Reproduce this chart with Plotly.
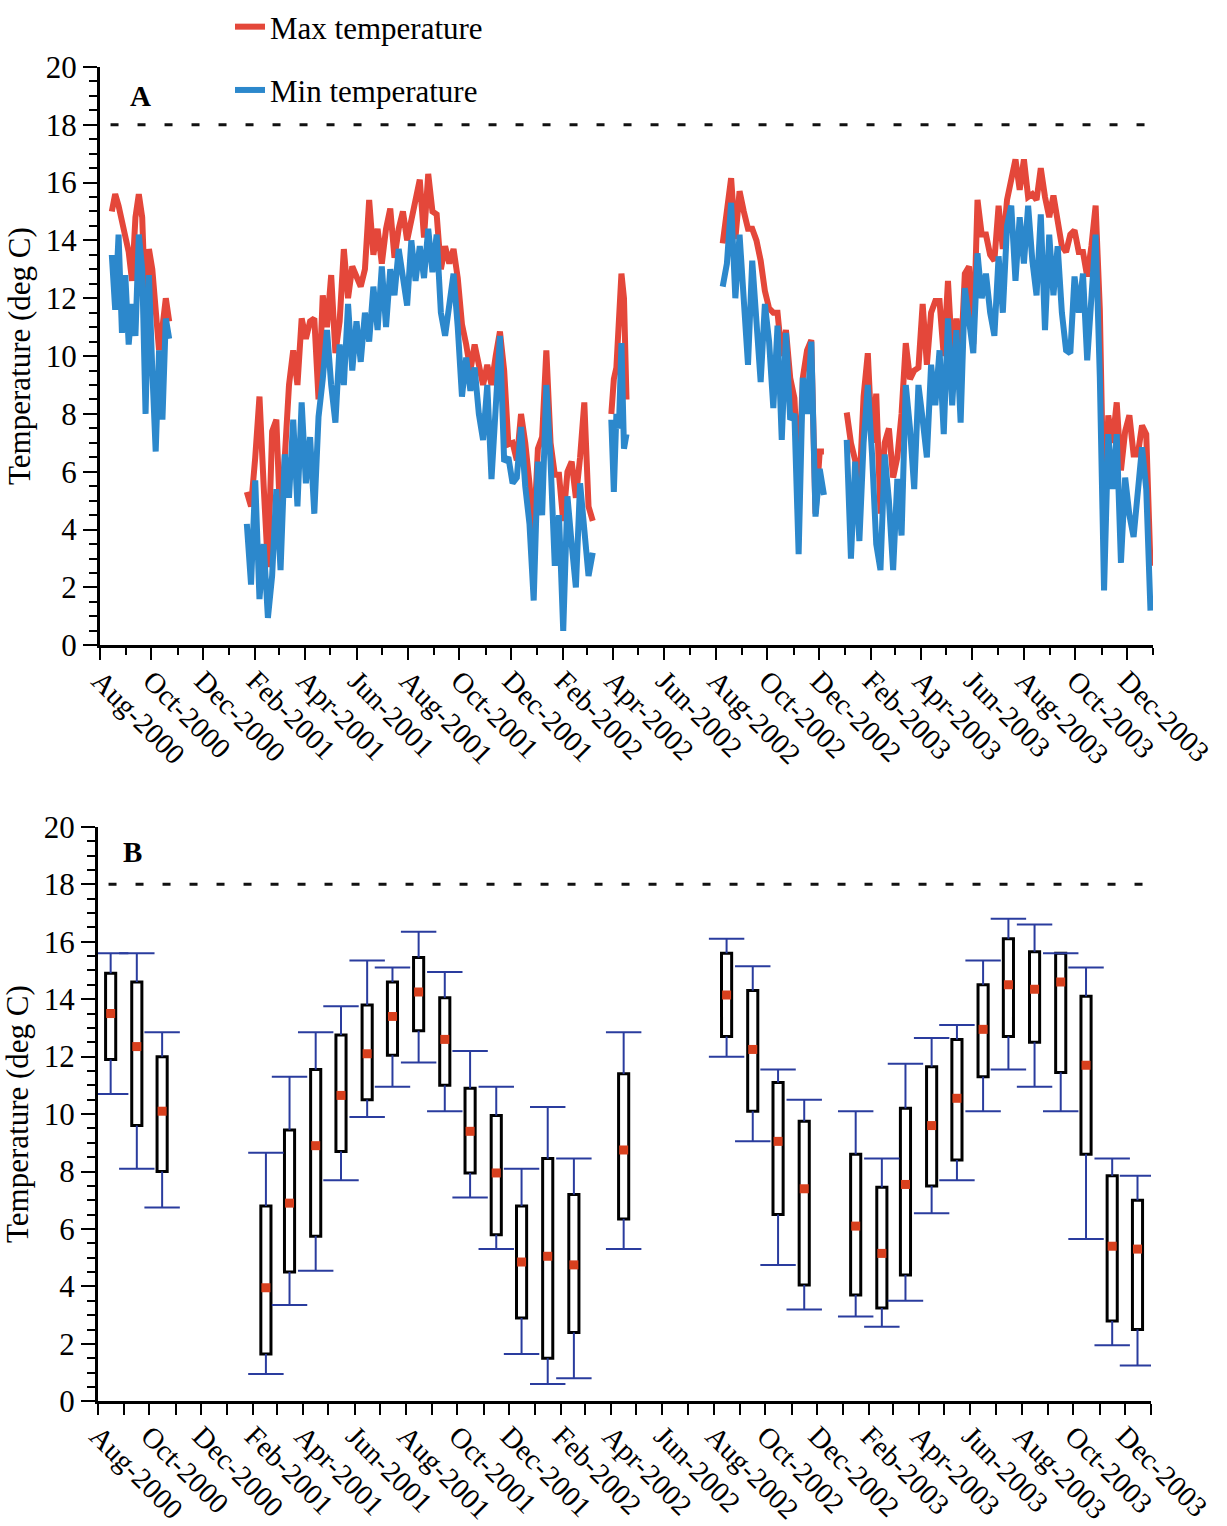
import pandas as pd
import plotly.graph_objects as go

W, H = 1227, 1526
FONT = "Liberation Serif"
RED = "#E4473A"
BLUE = "#2C88CC"
WHISKER = "#2A3C9E"
MEDIAN = "#D8401E"

THRESHOLD = 18
X_START = "2000-08-01"
X_END = "2004-01-01"

# ---------------- Panel A: daily max / min temperature ----------------
seg_start = ["2000-08-15", "2001-01-22", "2002-03-30", "2002-08-09", "2003-01-03"]
seg_step_days = [4, 5, 3, 5, 5]

max_seg1 = [15.0, 15.6, 15.2, 14.6, 14.2, 13.6, 12.6, 14.8, 15.6, 14.8, 11.5, 13.7, 13.0, 11.2,
            10.2, 11.0, 12.0, 11.2]
min_seg1 = [13.5, 11.6, 14.2, 10.8, 12.8, 10.4, 11.8, 10.7, 14.2, 13.0, 8.0, 12.8, 9.5, 6.7,
            10.2, 7.8, 11.3, 10.6]

max_seg2 = [5.3, 4.8, 6.5, 8.6, 5.5, 2.7, 7.4, 7.8, 4.0, 6.6, 9.0, 10.2, 9.0, 11.3, 10.6, 11.2,
            11.3, 8.5, 12.1, 11.0, 12.8, 10.1, 11.2, 13.7, 12.0, 13.1, 12.7, 12.4, 13.0, 15.4,
            13.5, 14.4, 13.2, 14.4, 15.1, 13.4, 14.4, 15.0, 14.0, 14.75, 15.3, 16.1, 14.1, 16.3,
            15.0, 14.9, 13.0, 13.8, 13.2, 13.7, 12.7, 11.1, 10.4, 9.5, 10.4, 9.6, 9.0, 9.7, 9.0,
            10.0, 10.85, 9.5, 6.95, 7.0, 6.4, 8.0, 7.0, 5.6, 3.8, 6.8, 7.2, 10.2, 7.0, 5.9, 5.9,
            4.3, 6.0, 6.35, 5.1, 6.5, 8.4, 4.8, 4.3]
min_seg2 = [4.2, 2.1, 5.7, 1.6, 3.5, 0.95, 2.4, 5.4, 2.6, 6.6, 5.1, 7.8, 4.8, 8.4, 5.6, 7.2,
            4.55, 7.9, 9.2, 10.9, 9.0, 7.7, 10.4, 9.0, 11.8, 9.5, 11.2, 9.8, 11.5, 10.5, 12.4,
            10.9, 13.1, 11.0, 13.0, 12.1, 13.7, 12.7, 11.75, 14.0, 12.6, 13.8, 12.7, 14.4, 12.9,
            14.2, 11.5, 10.7, 12.0, 12.85, 11.0, 8.6, 9.95, 8.8, 9.6, 8.0, 7.1, 9.0, 5.75, 8.75,
            10.7, 6.35, 6.5, 5.6, 5.8, 7.55, 5.5, 4.2, 1.55, 6.35, 4.5, 9.0, 6.35, 2.75, 4.5,
            0.5, 5.15, 3.5, 2.0, 5.6, 4.0, 2.4, 3.2]

max_seg3 = [8.0, 9.2, 9.6, 11.3, 12.85, 12.0, 8.5]
min_seg3 = [7.8, 5.3, 8.0, 7.5, 10.45, 6.8, 7.3]

max_seg4 = [13.9, 15.1, 16.15, 14.05, 15.7, 15.0, 14.4, 14.4, 14.0, 13.3, 12.25, 11.65, 11.5,
            11.5, 10.0, 10.9, 9.25, 8.55, 5.6, 9.25, 10.2, 10.55, 4.55, 6.7, 6.7]
min_seg4 = [12.4, 13.2, 15.3, 12.0, 14.2, 12.0, 9.7, 13.3, 11.4, 9.1, 11.8, 10.5, 8.2, 11.05,
            7.1, 10.8, 7.8, 8.0, 3.15, 9.25, 8.0, 10.5, 4.45, 6.1, 5.2]

max_seg5 = [8.05, 7.0, 6.4, 5.4, 8.6, 10.1,
            7.0, 8.7, 4.55, 7.0, 7.5, 5.8,
            6.5, 8.0, 10.45, 9.2, 9.5, 9.6,
            11.8, 9.7, 11.5, 11.9, 11.9, 10.0,
            12.6, 10.0, 11.3, 9.7, 12.85, 13.1,
            10.4, 15.4, 14.2, 14.2, 13.5, 13.3,
            15.2, 13.7, 15.4, 16.1, 16.8, 15.75,
            16.8, 15.5, 15.6, 15.4, 16.5, 15.5, 14.8,
            15.55, 14.65, 13.8, 13.6, 14.2, 14.35,
            13.6, 13.6, 12.75, 13.8, 15.2, 11.6,
            4.0, 7.95, 7.0, 8.4, 6.05, 7.4,
            7.95, 6.6, 6.6, 7.6, 7.3, 2.75]
min_seg5 = [7.1, 3.0, 6.35, 3.6, 7.0, 9.0,
            6.6, 3.5, 2.6, 6.6, 5.0, 2.6,
            5.75, 3.8, 9.0, 7.5, 5.4, 9.0,
            7.8, 6.5, 9.7, 8.3, 10.2, 7.3,
            11.3, 8.3, 10.9, 7.7, 12.35, 11.0,
            10.1, 13.55, 12.0, 12.85, 11.5, 10.7,
            13.45, 11.5, 14.5, 15.2, 12.6, 14.8,
            13.2, 15.2, 13.3, 12.1, 14.9, 10.9, 14.2,
            12.1, 13.8, 11.5, 10.2, 10.1, 12.75,
            11.5, 12.85, 9.85, 12.0, 14.2, 9.25,
            1.9, 7.3, 5.4, 7.3, 2.85, 5.8,
            4.5, 3.75, 5.5, 6.85, 5.4, 1.2]

max_temp = [max_seg1, max_seg2, max_seg3, max_seg4, max_seg5]
min_temp = [min_seg1, min_seg2, min_seg3, min_seg4, min_seg5]

# ---------------- Panel B: monthly box statistics ----------------
box_month = ["2000-08", "2000-09", "2000-10",
             "2001-02", "2001-03", "2001-04", "2001-05", "2001-06", "2001-07", "2001-08",
             "2001-09", "2001-10", "2001-11", "2001-12", "2002-01", "2002-02",
             "2002-04",
             "2002-08", "2002-09", "2002-10", "2002-11",
             "2003-01", "2003-02", "2003-03", "2003-04", "2003-05", "2003-06", "2003-07",
             "2003-08", "2003-09", "2003-10", "2003-11", "2003-12"]
box_low = [10.7, 8.1, 6.75,
           0.95, 3.35, 4.55, 7.7, 9.9, 10.95, 11.8, 10.1, 7.1, 5.3, 1.65, 0.6, 0.8,
           5.3,
           12.0, 9.05, 4.75, 3.2,
           2.95, 2.6, 3.5, 6.55, 7.7, 10.1, 11.55, 10.95, 10.1, 5.65, 1.95, 1.25]
box_q1 = [11.9, 9.6, 8.0,
          1.65, 4.5, 5.75, 8.7, 10.5, 12.05, 12.9, 11.0, 7.95, 5.8, 2.9, 1.5, 2.4,
          6.35,
          12.7, 10.1, 6.5, 4.05,
          3.7, 3.25, 4.4, 7.5, 8.4, 11.3, 12.7, 12.5, 11.45, 8.6, 2.8, 2.5]
box_median = [13.5, 12.35, 10.1,
              3.95, 6.9, 8.9, 10.65, 12.1, 13.4, 14.25, 12.6, 9.4, 7.95, 4.85, 5.05, 4.75,
              8.75,
              14.15, 12.25, 9.05, 7.4,
              6.1, 5.15, 7.55, 9.6, 10.55, 12.95, 14.5, 14.35, 14.6, 11.7, 5.4, 5.3]
box_q3 = [14.9, 14.6, 12.0,
          6.8, 9.45, 11.55, 12.75, 13.8, 14.6, 15.45, 14.05, 10.9, 9.95, 6.8, 8.45, 7.2,
          11.4,
          15.6, 14.3, 11.1, 9.75,
          8.6, 7.45, 10.2, 11.65, 12.6, 14.5, 16.1, 15.65, 15.6, 14.1, 7.85, 7.0]
box_high = [15.6, 15.6, 12.85,
            8.65, 11.3, 12.85, 13.75, 15.35, 15.1, 16.35, 14.95, 12.2, 10.95, 8.1, 10.25, 8.45,
            12.85,
            16.1, 15.15, 11.55, 10.5,
            10.1, 8.45, 11.75, 12.65, 13.1, 15.35, 16.8, 16.6, 15.6, 15.1, 8.45, 7.85]

# ---------------- build figure ----------------
def series(vals_list):
    xs, ys = [], []
    for start, step, vals in zip(seg_start, seg_step_days, vals_list):
        d = pd.date_range(start, periods=len(vals), freq=f"{step}D")
        xs += list(d) + [None]
        ys += list(vals) + [None]
    return xs, ys

fig = go.Figure()

xm, ym = series(max_temp)
xn, yn = series(min_temp)
fig.add_trace(go.Scatter(x=xm, y=ym, mode="lines", name="Max temperature",
                         line=dict(color=RED, width=6), legendgroup="max",
                         xaxis="x", yaxis="y"))
fig.add_trace(go.Scatter(x=xn, y=yn, mode="lines", name="Min temperature",
                         line=dict(color=BLUE, width=6), legendgroup="min",
                         xaxis="x", yaxis="y"))

mid = pd.to_datetime([m + "-01" for m in box_month]) + pd.Timedelta(days=15)
BOX_DAYS = 12
CAP_DAYS = 21
day_ms = 86400000

fig.add_trace(go.Bar(x=mid, y=[q3 - q1 for q1, q3 in zip(box_q1, box_q3)], base=box_q1,
                     width=BOX_DAYS * day_ms, marker=dict(color="white",
                     line=dict(color="black", width=3)), showlegend=False,
                     xaxis="x2", yaxis="y2"))

wx, wy = [], []
cap = pd.Timedelta(days=CAP_DAYS)
for m, lo, q1, q3, hi in zip(mid, box_low, box_q1, box_q3, box_high):
    wx += [m, m, None, m, m, None, m - cap, m + cap, None, m - cap, m + cap, None]
    wy += [q3, hi, None, q1, lo, None, hi, hi, None, lo, lo, None]
fig.add_trace(go.Scatter(x=wx, y=wy, mode="lines", line=dict(color=WHISKER, width=2),
                         showlegend=False, xaxis="x2", yaxis="y2"))
fig.add_trace(go.Scatter(x=mid, y=box_median, mode="markers",
                         marker=dict(symbol="square", size=9, color=MEDIAN),
                         showlegend=False, xaxis="x2", yaxis="y2"))

def px_x(p):
    return p / W

def px_y(p):
    return 1 - p / H

ytickfont = dict(family=FONT, size=31, color="black")
xtickfont = dict(family=FONT, size=29, color="black")

def xaxis_cfg(domain, anchor, major_len, minor_len):
    return dict(domain=domain, anchor=anchor, type="date", range=[X_START, X_END],
                tick0=X_START, dtick="M2", tickformat="%b-%Y", tickangle=45,
                ticks="outside", ticklen=major_len, tickwidth=2, tickcolor="black",
                minor=dict(dtick="M1", ticks="outside", ticklen=minor_len, tickwidth=2,
                           tickcolor="black", showgrid=False),
                showline=True, linecolor="black", linewidth=3, showgrid=False,
                zeroline=False, tickfont=xtickfont, automargin=False,
                ticklabelstandoff=-8)

def yaxis_cfg(domain, anchor):
    return dict(domain=domain, anchor=anchor, range=[0, 20], tick0=0, dtick=2,
                ticks="outside", ticklen=14, tickwidth=2, tickcolor="black",
                minor=dict(dtick=0.5, ticks="outside", ticklen=8, tickwidth=2,
                           tickcolor="black", showgrid=False),
                showline=True, linecolor="black", linewidth=3, showgrid=False,
                zeroline=False, tickfont=ytickfont, automargin=False,
                title=dict(text="Temperature (deg C)", font=dict(family=FONT, size=31),
                           standoff=6))

fig.update_layout(
    width=W, height=H, autosize=False,
    margin=dict(l=0, r=0, t=0, b=0),
    paper_bgcolor="white", plot_bgcolor="white",
    font=dict(family=FONT, color="black"),
    xaxis=xaxis_cfg([px_x(100), px_x(1153)], "y", 12, 7),
    yaxis=yaxis_cfg([px_y(643), px_y(63)], "x"),
    xaxis2=xaxis_cfg([px_x(98), px_x(1151)], "y2", 11, 11),
    yaxis2=yaxis_cfg([px_y(1401), px_y(825)], "x2"),
    legend=dict(x=px_x(230), y=1 + 4 / H, xanchor="left", yanchor="top",
                font=dict(family=FONT, size=31, color="black"), tracegroupgap=20,
                bgcolor="rgba(0,0,0,0)", itemwidth=30),
    showlegend=True,
    shapes=[
        dict(type="line", xref="x domain", yref="y", x0=0.01, x1=1.0, y0=THRESHOLD,
             y1=THRESHOLD, line=dict(color="#111", width=3, dash="8px,19px")),
        dict(type="line", xref="x2 domain", yref="y2", x0=0.01, x1=1.0, y0=THRESHOLD,
             y1=THRESHOLD, line=dict(color="#111", width=3, dash="8px,19px")),
    ],
    annotations=[
        dict(text="<b>A</b>", x=px_x(128), y=px_y(92), xref="paper", yref="paper",
             xanchor="left", yanchor="middle", showarrow=False,
             font=dict(family=FONT, size=29, color="black")),
        dict(text="<b>B</b>", x=px_x(121), y=px_y(850), xref="paper", yref="paper",
             xanchor="left", yanchor="middle", showarrow=False,
             font=dict(family=FONT, size=29, color="black")),
    ],
)

fig.write_html("out.html", config={"displayModeBar": False},
               post_script="document.body.style.margin='0';")
